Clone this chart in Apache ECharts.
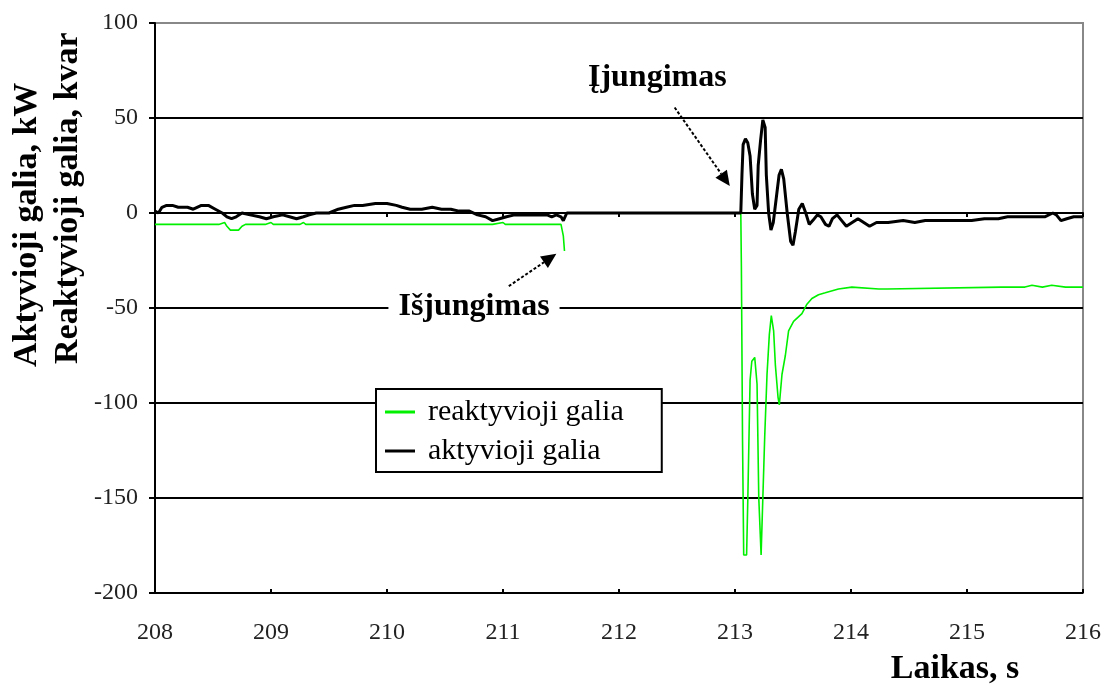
<!DOCTYPE html>
<html>
<head>
<meta charset="utf-8">
<script src="https://cdn.jsdelivr.net/npm/echarts@6/dist/echarts.min.js"></script>
<style>html,body{margin:0;padding:0;background:#fff;}#c{width:1107px;height:686px;}</style>
</head>
<body>
<div id="c"></div>
<script>
// ---- data ----
var seriesNames = ['reaktyvioji galia', 'aktyvioji galia'];
var xTicks = [208, 209, 210, 211, 212, 213, 214, 215, 216];
var yTicks = [-200, -150, -100, -50, 0, 50, 100];
var xTitle = 'Laikas, s';
var yTitles = ['Aktyvioji galia, kW', 'Reaktyvioji galia, kvar'];

var activeT = [208.00,208.03,208.06,208.10,208.15,208.20,208.28,208.33,208.40,208.46,208.52,208.58,208.62,208.66,208.70,208.75,208.82,208.90,208.96,209.02,209.10,209.16,209.22,209.28,209.33,209.39,209.50,209.58,209.65,209.72,209.79,209.90,210.00,210.08,210.13,210.20,210.30,210.39,210.47,210.55,210.62,210.71,210.78,210.85,210.91,210.97,211.03,211.10,211.20,211.30,211.38,211.42,211.46,211.50,211.52,211.55,212.70,212.71,212.72,213.05,213.06,213.07,213.09,213.11,213.13,213.15,213.17,213.19,213.20,213.22,213.24,213.26,213.27,213.29,213.31,213.33,213.36,213.38,213.40,213.42,213.45,213.48,213.50,213.52,213.55,213.58,213.61,213.64,213.67,213.71,213.74,213.78,213.81,213.84,213.88,213.92,213.96,214.01,214.06,214.11,214.16,214.22,214.32,214.45,214.55,214.64,214.80,214.95,215.04,215.15,215.27,215.35,215.44,215.55,215.67,215.74,215.77,215.81,215.86,215.92,216.00];
var activeV = [1,0,3,4,4,3,3,2,4,4,2,0,-2,-3,-2,0,-1,-2,-3,-2,-1,-2,-3,-2,-1,0,0,2,3,4,4,5,5,4,3,2,2,3,2,2,1,1,-1,-2,-4,-3,-2,-1,-1,-1,-1,-2,-1,-2,-4,0,0,-1,0,0,20,36,39,37,30,10,2,4,25,38,49,45,20,0,-9,-5,10,20,23,18,0,-15,-17,-10,2,5,0,-6,-4,-1,-2,-6,-7,-3,-1,-4,-7,-5,-3,-5,-7,-5,-5,-4,-5,-4,-4,-4,-4,-3,-3,-2,-2,-2,-2,0,-1,-4,-3,-2,-2];

var reactiveT = [208.00,208.55,208.56,208.60,208.62,208.65,208.72,208.75,208.78,208.95,208.96,209.00,209.02,209.25,209.26,209.28,209.30,210.91,210.92,211.00,211.02,211.50,211.51,211.52,211.53,212.30,213.05,213.055,213.065,213.075,213.10,213.11,213.13,213.145,213.17,213.19,213.205,213.225,213.24,213.256,213.276,213.296,213.313,213.333,213.348,213.371,213.382,213.405,213.434,213.462,213.505,213.577,213.620,213.663,213.72,213.778,213.892,214.007,214.24,214.31,214.32,215.30,215.31,215.33,215.50,215.51,215.56,215.57,215.65,215.66,215.73,215.74,215.85,215.86,215.90,216.00];
var reactiveV = [-6,-6,-5,-5,-7,-9,-9,-7,-6,-6,-5,-5,-6,-6,-5,-5,-6,-6,-5,-5,-6,-6,-9,-12,-20,null,0,-28,-120,-180,-180,-152,-88,-78,-76,-90,-150,-180,-180,-118,-85,-64,-54,-62,-80,-97,-101,-85,-75,-62,-57,-53,-48,-45,-43,-42,-40,-39,-40,-40,-39,-39,-38,-39,-39,-38,-38,-39,-39,-38,-38,-39,-39,-38,-39,-39];

// annotation anchors (data coordinates)
var annOn = {text: 'Įjungimas', at: [212.33, 71], from: [212.48, 55.5], to: [212.955, 14.2]};
var annOff = {text: 'Išjungimas', at: [210.75, -49.5], from: [211.05, -38.5], to: [211.46, -21.5]};

function pairs(t, v) { return t.map(function (x, i) { return [x, v[i]]; }); }

var serif = '"Liberation Serif", "DejaVu Serif", serif';
var chart = echarts.init(document.getElementById('c'));
var option = {
  animation: false,
  backgroundColor: '#fff',
  grid: {left: 155, right: 24, top: 23, bottom: 93, show: true, borderColor: '#888', borderWidth: 2, backgroundColor: 'transparent'},
  legend: {
    orient: 'vertical', left: 376, top: 389,
    data: seriesNames,
    backgroundColor: '#fff', borderColor: '#000', borderWidth: 2, borderRadius: 0,
    padding: [8, 38, 6, 9], itemGap: 9,
    itemWidth: 30, itemHeight: 3, icon: 'rect',
    textStyle: {fontFamily: serif, fontSize: 30, color: '#000', padding: [0, 0, 0, 8]}
  },
  xAxis: [{
    type: 'value', min: xTicks[0], max: xTicks[xTicks.length - 1], interval: 1,
    axisLine: {show: true, lineStyle: {color: '#000', width: 2}},
    axisTick: {show: true, inside: false, length: 4, lineStyle: {color: '#000', width: 2}},
    axisLabel: {fontFamily: serif, fontSize: 24, color: '#222', margin: 28},
    splitLine: {show: false}
  }, {
    type: 'value', min: xTicks[0], max: xTicks[xTicks.length - 1], interval: 1, position: 'bottom',
    axisLine: {show: false},
    axisTick: {show: true, inside: true, length: 4, lineStyle: {color: '#000', width: 2}},
    axisLabel: {show: false}, splitLine: {show: false}
  }],
  yAxis: {
    type: 'value', min: yTicks[0], max: yTicks[yTicks.length - 1], interval: 50,
    axisLine: {show: true, lineStyle: {color: '#000', width: 2}},
    axisTick: {show: true, inside: false, length: 6, lineStyle: {color: '#000', width: 2}},
    axisLabel: {fontFamily: serif, fontSize: 24, color: '#222', margin: 17},
    splitLine: {show: true, lineStyle: {color: ['#000', '#000', '#000', '#000', '#000', '#000', '#888'], width: 2}}
  },
  series: [{
    name: seriesNames[0], type: 'line', data: pairs(reactiveT, reactiveV),
    showSymbol: false, connectNulls: false, z: 3,
    lineStyle: {color: '#00f000', width: 1.6}, itemStyle: {color: '#00f000'}
  }, {
    name: seriesNames[1], type: 'line', data: pairs(activeT, activeV),
    showSymbol: false, z: 4,
    lineStyle: {color: '#000', width: 3}, itemStyle: {color: '#000'}
  }]
};
chart.setOption(option);

function px(p) { return chart.convertToPixel({xAxisIndex: 0, yAxisIndex: 0}, p); }
function arrow(a) {
  var f = px(a.from), t = px(a.to);
  var ang = Math.atan2(t[1] - f[1], t[0] - f[0]);
  var L = 15, W = 7;
  var bx = t[0] - L * Math.cos(ang), by = t[1] - L * Math.sin(ang);
  var nx = -Math.sin(ang), ny = Math.cos(ang);
  return [{
    type: 'line', z: 20,
    shape: {x1: f[0], y1: f[1], x2: bx, y2: by},
    style: {stroke: '#000', lineWidth: 2, lineDash: [3, 2]}
  }, {
    type: 'polygon', z: 20,
    shape: {points: [[t[0], t[1]], [bx + nx * W, by + ny * W], [bx - nx * W, by - ny * W]]},
    style: {fill: '#000'}
  }];
}
var pOn = px(annOn.at), pOff = px(annOff.at);
var g = [];
g = g.concat(arrow(annOn), arrow(annOff));
g.push({type: 'text', z: 20, x: pOn[0], y: pOn[1],
  style: {text: annOn.text, font: 'bold 32px ' + serif, fill: '#000', textAlign: 'center', textVerticalAlign: 'middle'}});
g.push({type: 'text', z: 20, x: pOff[0], y: pOff[1],
  style: {text: annOff.text, font: 'bold 32px ' + serif, fill: '#000', textAlign: 'center', textVerticalAlign: 'middle',
    backgroundColor: '#fff', padding: [2, 10, 2, 10]}});
g.push({type: 'text', z: 20, x: 27, y: 367, rotation: Math.PI / 2,
  style: {text: yTitles[0], font: 'bold 34px ' + serif, fill: '#000', textAlign: 'left', textVerticalAlign: 'middle'}});
g.push({type: 'text', z: 20, x: 68, y: 364, rotation: Math.PI / 2,
  style: {text: yTitles[1], font: 'bold 34px ' + serif, fill: '#000', textAlign: 'left', textVerticalAlign: 'middle'}});
g.push({type: 'text', z: 20, x: 955, y: 669,
  style: {text: xTitle, font: 'bold 34px ' + serif, fill: '#000', textAlign: 'center', textVerticalAlign: 'middle'}});
chart.setOption({graphic: g});
</script>
</body>
</html>
